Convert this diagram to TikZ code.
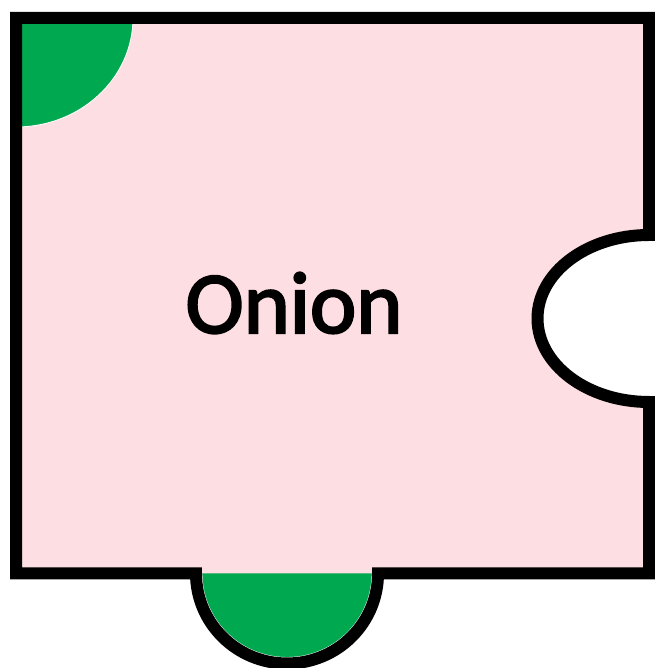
\documentclass[tikz,border=0pt]{standalone}
\usepackage{fontspec}
\setmainfont{Carlito}
\newfontfamily\semibold[FakeBold=2.5]{Carlito}
\usepackage{xcolor}
\usepackage{tikz}
\usetikzlibrary{positioning, calc}
\definecolor{piecepink}{RGB}{253,222,226}
\definecolor{knobgreen}{RGB}{0,168,80}
\tikzset{
  %% Outline of the puzzle piece
  piece/.style={
    draw=black, fill=piecepink,
    line width=2.4mm, line join=miter
  },
  %% Green knob
  knob/.style={
    fill=knobgreen
  },
  knobedge/.style={
    draw=white, line width=0.5pt
  },
  %% Label
  lbl/.style={
    inner sep=0pt, text=black,
    font=\fontsize{50}{60}\semibold
  },
}
\begin{document}
\begin{tikzpicture}[x=0.2mm, y=0.2mm]

  \useasboundingbox (0,0) rectangle (655,668);

  %% Body of the piece (fill only)
  \fill[piecepink] (16,650) -- (649,650) -- (649,433)
    arc[start angle=90, end angle=270, x radius=111.5, y radius=83.5]
    -- (649,94.5) -- (378,94.5)
    arc[start angle=0, end angle=-180, x radius=91, y radius=90]
    -- (16,94.5) -- cycle;

  %% Green knobs
  \fill[knob] (16,650) -- (133,650)
    arc[start angle=0, end angle=-90, x radius=117, y radius=109] -- cycle;
  \draw[knobedge] (133,650)
    arc[start angle=0, end angle=-90, x radius=117, y radius=109];
  \fill[knob] (372,94.5)
    arc[start angle=0, end angle=-180, x radius=85, y radius=84] -- cycle;
  \draw[knobedge] (372,94.5)
    arc[start angle=0, end angle=-180, x radius=85, y radius=84];

  %% Outline
  \draw[piece, fill=none] (16,650) -- (649,650) -- (649,433)
    arc[start angle=90, end angle=270, x radius=111.5, y radius=83.5]
    -- (649,94.5) -- (378,94.5)
    arc[start angle=0, end angle=-180, x radius=91, y radius=90]
    -- (16,94.5) -- cycle;

  %% Label
  \node[lbl] (onion) at (294,365) {Onion};

\end{tikzpicture}
\end{document}
